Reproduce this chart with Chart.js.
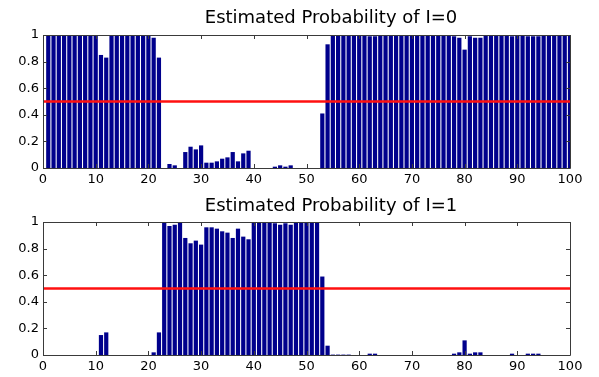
<!DOCTYPE html>
<html>
<head>
<meta charset="utf-8">
<script src="https://cdn.jsdelivr.net/npm/chart.js@4.4.1/dist/chart.umd.min.js"></script>
<style>
  html, body { margin: 0; padding: 0; background: #ffffff; }
  #wrap { position: relative; width: 599px; height: 377px; overflow: hidden; }
  canvas { position: absolute; left: 0; }
  #c0 { top: 0px; }
  #c1 { top: 190px; }
</style>
</head>
<body>
<div id="wrap">
  <canvas id="c0" width="599" height="190"></canvas>
  <canvas id="c1" width="599" height="187"></canvas>
</div>
<script>
// ---- data ----
const trials = [1,2,3,4,5,6,7,8,9,10,11,12,13,14,15,16,17,18,19,20,
  21,22,23,24,25,26,27,28,29,30,31,32,33,34,35,36,37,38,39,40,
  41,42,43,44,45,46,47,48,49,50,51,52,53,54,55,56,57,58,59,60,
  61,62,63,64,65,66,67,68,69,70,71,72,73,74,75,76,77,78,79,80,
  81,82,83,84,85,86,87,88,89,90,91,92,93,94,95,96,97,98,99,100];

const probI0 = [
  1,1,1,1,1,1,1,1,1,1,
  0.85,0.83,1,1,1,1,1,1,1,1,
  0.98,0.83,0,0.03,0.02,0,0.12,0.16,0.14,0.17,
  0.04,0.04,0.05,0.07,0.08,0.12,0.05,0.11,0.13,0,
  0,0,0,0.01,0.02,0.01,0.02,0,0,0,
  0,0,0.41,0.93,0.997,0.997,0.997,0.997,1,1,
  1,0.99,0.99,1,1,1,1,1,1,1,
  1,1,1,1,1,1,1,0.99,0.98,0.89,
  0.99,0.98,0.98,1,1,1,1,1,0.99,1,
  1,0.99,0.99,0.99,1,1,1,1,1,1];

const probI1 = [
  0,0,0,0,0,0,0,0,0,0,
  0.15,0.17,0,0,0,0,0,0,0,0,
  0.02,0.17,1,0.97,0.98,1,0.88,0.84,0.86,0.83,
  0.96,0.96,0.95,0.93,0.92,0.88,0.95,0.89,0.87,1,
  1,1,1,0.99,0.98,0.99,0.98,1,1,1,
  1,1,0.59,0.07,0.003,0.003,0.003,0.003,0,0,
  0,0.01,0.01,0,0,0,0,0,0,0,
  0,0,0,0,0,0,0,0.01,0.02,0.11,
  0.01,0.02,0.02,0,0,0,0,0,0.01,0,
  0,0.01,0.01,0.01,0,0,0,0,0,0];

const xTickValues = [0,10,20,30,40,50,60,70,80,90,100];
const yTickValues = [0,0.2,0.4,0.6,0.8,1];
const yTickLabels = ['0','0.2','0.4','0.6','0.8','1'];
const threshold = 0.5;
const titles = ['Estimated Probability of I=0', 'Estimated Probability of I=1'];

// ---- helpers ----
const FONT = "'DejaVu Sans', 'Liberation Sans', Arial, sans-serif";

const framePlugin = {
  id: 'frame',
  afterDraw(chart) {
    const { ctx, chartArea: a, scales } = chart;
    ctx.save();
    ctx.strokeStyle = '#3a3a3a';
    ctx.lineWidth = 1;
    ctx.beginPath();
    ctx.rect(Math.round(a.left) + 0.5, Math.round(a.top) + 0.5,
             Math.round(a.right - a.left), Math.round(a.bottom - a.top));
    ctx.stroke();
    const tl = 4;
    ctx.beginPath();
    xTickValues.forEach(v => {
      const px = Math.round(scales.x.getPixelForValue(v)) + 0.5;
      ctx.moveTo(px, a.bottom); ctx.lineTo(px, a.bottom - tl);
      ctx.moveTo(px, a.top); ctx.lineTo(px, a.top + tl);
    });
    yTickValues.forEach(v => {
      const py = Math.round(scales.y.getPixelForValue(v)) + 0.5;
      ctx.moveTo(a.left, py); ctx.lineTo(a.left + tl, py);
      ctx.moveTo(a.right, py); ctx.lineTo(a.right - tl, py);
    });
    ctx.stroke();
    // title
    const t = chart.options.plugins.frame;
    ctx.fillStyle = '#000';
    ctx.font = '18px ' + FONT;
    ctx.textAlign = 'center';
    ctx.textBaseline = 'alphabetic';
    ctx.fillText(t.title, t.tx, t.ty);
    ctx.restore();
  }
};

function makeChart(id, values, title, padTop, titleY) {
  const barData = trials.map((x, i) => ({ x: x, y: values[i] }));
  return new Chart(document.getElementById(id), {
    type: 'bar',
    data: {
      datasets: [
        {
          type: 'line',
          data: [{ x: 0, y: threshold }, { x: 100, y: threshold }],
          borderColor: '#ff1010',
          borderWidth: 2.5,
          pointRadius: 0,
          order: 0
        },
        {
          type: 'bar',
          data: barData,
          backgroundColor: '#00008c',
          borderWidth: 0,
          barPercentage: 0.8,
          categoryPercentage: 1.0,
          order: 1
        }
      ]
    },
    options: {
      responsive: false,
      animation: false,
      devicePixelRatio: 1,
      layout: { padding: { left: 0, right: 29, top: padTop, bottom: 0 } },
      plugins: {
        legend: { display: false },
        tooltip: { enabled: false },
        title: { display: false },
        frame: { title: title, tx: 331, ty: titleY }
      },
      scales: {
        x: {
          type: 'linear',
          min: 0, max: 100,
          offset: false,
          grid: { display: false, drawTicks: false },
          border: { display: false },
          afterBuildTicks: s => { s.ticks = xTickValues.map(v => ({ value: v })); },
          afterFit: s => { s.height = 22; },
          ticks: {
            padding: 4,
            color: '#000',
            font: { family: FONT, size: 13 },
            maxRotation: 0,
            autoSkip: false,
            callback: v => String(v)
          }
        },
        y: {
          type: 'linear',
          min: 0, max: 1,
          grid: { display: false, drawTicks: false },
          border: { display: false },
          afterBuildTicks: s => { s.ticks = yTickValues.map(v => ({ value: v })); },
          afterFit: s => { s.width = 43; },
          ticks: {
            padding: 4,
            color: '#000',
            font: { family: FONT, size: 13 },
            autoSkip: false,
            callback: (v, i) => yTickLabels[i]
          }
        }
      }
    },
    plugins: [framePlugin]
  });
}

makeChart('c0', probI0, titles[0], 35, 23);
makeChart('c1', probI1, titles[1], 32, 21);
</script>
</body>
</html>
